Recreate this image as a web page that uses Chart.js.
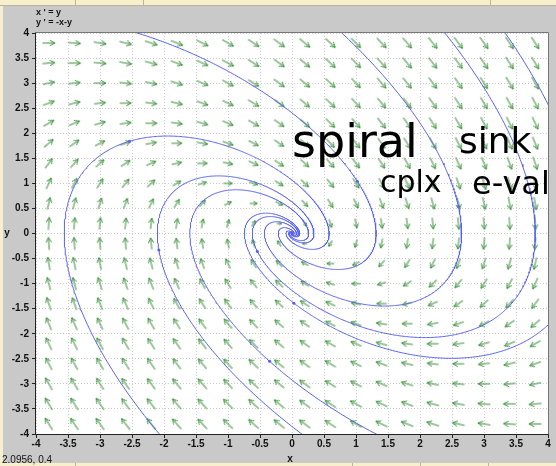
<!DOCTYPE html>
<html>
<head>
<meta charset="utf-8">
<script src="https://cdn.jsdelivr.net/npm/chart.js@4/dist/chart.umd.min.js"></script>
<style>
  html, body { margin: 0; padding: 0; background: #c8c8c8; }
  #wrap { position: relative; width: 556px; height: 466px; }
</style>
</head>
<body>
<div id="wrap"><canvas id="phase" width="556" height="466"></canvas></div>
<script>
// Phase plane of the linear system  x' = y,  y' = -x - y
const equationLines = ["x ' = y", "y ' = -x-y"];
const xLimits = [-4, 4];
const yLimits = [-4, 4];
const tickValues = [-4, -3.5, -3, -2.5, -2, -1.5, -1, -0.5, 0, 0.5, 1, 1.5, 2, 2.5, 3, 3.5, 4];
const tickLabels = ["-4", "-3.5", "-3", "-2.5", "-2", "-1.5", "-1", "-0.5", "0", "0.5", "1", "1.5", "2", "2.5", "3", "3.5", "4"];

// direction-field sample positions
const fieldXs = [-3.8, -3.4, -3.0, -2.6, -2.2, -1.8, -1.4, -1.0, -0.6, -0.2, 0.2, 0.6, 1.0, 1.4, 1.8, 2.2, 2.6, 3.0, 3.4, 3.8];
const fieldYs = [-3.8, -3.4, -3.0, -2.6, -2.2, -1.8, -1.4, -1.0, -0.6, -0.2, 0.2, 0.6, 1.0, 1.4, 1.8, 2.2, 2.6, 3.0, 3.4, 3.8];

// initial conditions of the plotted solution curves
const seedXs = [-2.54, 1.02, 2.60, -2.08, -0.35, -0.54, 0.03];
const seedYs = [1.84, 1.04, 0.54, -0.33, -2.55, -0.36, -1.39];

const noteWords = ["spiral", "sink", "cplx", "e-val"];
const cursorReadout = "2.0956, 0.4";
const axisNames = ["x", "y"];

// right-hand side of the system
function rhs(x, y) { return [y, -x - y]; }

function rk4(x, y, h) {
  const [a1, b1] = rhs(x, y);
  const [a2, b2] = rhs(x + h * a1 / 2, y + h * b1 / 2);
  const [a3, b3] = rhs(x + h * a2 / 2, y + h * b2 / 2);
  const [a4, b4] = rhs(x + h * a3, y + h * b3);
  return [x + h * (a1 + 2 * a2 + 2 * a3 + a4) / 6, y + h * (b1 + 2 * b2 + 2 * b3 + b4) / 6];
}

// integrate backward until far outside, forward until the sink is reached
function solutionCurve(x0, y0) {
  const h = 0.01, far = 10;
  const back = [];
  let x = x0, y = y0;
  for (let i = 0; i < 5000; i++) {
    [x, y] = rk4(x, y, -h);
    back.push({ x, y });
    if (Math.abs(x) > far || Math.abs(y) > far) break;
  }
  const fwd = [];
  x = x0; y = y0;
  for (let i = 0; i < 8000; i++) {
    [x, y] = rk4(x, y, h);
    fwd.push({ x, y });
    if (Math.hypot(x, y) < 0.004) break;
  }
  return back.reverse().concat([{ x: x0, y: y0 }], fwd);
}

const fieldPoints = [];
fieldYs.forEach(y => fieldXs.forEach(x => fieldPoints.push({ x, y })));

// arrow sprites, cached by length in pixels
const spriteCache = {};
function arrowSprite(len) {
  const key = Math.round(len * 2) / 2;
  if (spriteCache[key]) return spriteCache[key];
  const c = document.createElement('canvas');
  const w = Math.ceil(key) + 4, hgt = 10;
  c.width = w; c.height = hgt;
  const g = c.getContext('2d');
  g.strokeStyle = 'rgb(58,145,58)';
  g.lineWidth = 1;
  g.lineCap = 'round';
  const x0 = (w - key) / 2, x1 = x0 + key, cy = hgt / 2;
  const hl = Math.min(4.5, key * 0.45), hw = hl * 0.55;
  g.beginPath();
  g.moveTo(x0, cy); g.lineTo(x1, cy);
  g.moveTo(x1 - hl, cy - hw); g.lineTo(x1, cy); g.lineTo(x1 - hl, cy + hw);
  g.stroke();
  spriteCache[key] = c;
  return c;
}

function arrowLength(p) {
  const [u, v] = rhs(p.x, p.y);
  const m = Math.hypot(u, v);
  return 3 + 12 * m / (m + 1.2);
}

function arrowAngle(ctx) {
  const p = ctx.raw;
  const [u, v] = rhs(p.x, p.y);
  const a = ctx.chart.chartArea;
  const kx = a ? (a.right - a.left) / (xLimits[1] - xLimits[0]) : 64;
  const ky = a ? (a.bottom - a.top) / (yLimits[1] - yLimits[0]) : 50;
  return Math.atan2(-v * ky, u * kx) * 180 / Math.PI;
}

const curveColor = 'rgb(88,98,240)';
const datasets = [];
seedXs.forEach((sx, i) => {
  datasets.push({
    data: solutionCurve(sx, seedYs[i]),
    showLine: true,
    borderColor: curveColor,
    borderWidth: 1,
    pointRadius: 0,
    tension: 0,
    clip: 0
  });
});
datasets.push({
  data: seedXs.map((sx, i) => ({ x: sx, y: seedYs[i] })),
  showLine: false,
  pointRadius: 1.5,
  pointBackgroundColor: curveColor,
  pointBorderWidth: 0
});
datasets.push({
  data: fieldPoints,
  showLine: false,
  pointRadius: 1,
  pointStyle: ctx => arrowSprite(arrowLength(ctx.raw)),
  pointRotation: ctx => arrowAngle(ctx)
});

const labelFont = { family: '"Liberation Sans", Arial, sans-serif', size: 10, weight: 'bold' };

const decor = {
  id: 'decor',
  beforeDraw(chart) {
    const { ctx, chartArea: a, width, height } = chart;
    ctx.save();
    ctx.fillStyle = '#c9c9c9';
    ctx.fillRect(0, 0, width, height);
    // window strips
    ctx.fillStyle = '#f8f0cc';
    ctx.fillRect(0, 0, width, 5);
    ctx.fillRect(0, 0, 3, height);
    ctx.fillRect(0, 463, width, 3);
    ctx.strokeStyle = '#b9b4a0';
    ctx.lineWidth = 1;
    ctx.beginPath();
    [75, 143, 490].forEach(x => { ctx.moveTo(x + 0.5, 0); ctx.lineTo(x + 0.5, 5); });
    [75, 352, 420, 488].forEach(x => { ctx.moveTo(x + 0.5, 463); ctx.lineTo(x + 0.5, 466); });
    ctx.moveTo(0, 5.5); ctx.lineTo(width, 5.5);
    ctx.stroke();
    ctx.fillStyle = '#ffffff';
    ctx.fillRect(a.left, a.top, a.right - a.left, a.bottom - a.top);
    ctx.restore();
  },
  afterDraw(chart) {
    const { ctx, chartArea: a } = chart;
    ctx.save();
    // plot frame
    ctx.lineWidth = 1;
    ctx.strokeStyle = '#777';
    ctx.beginPath();
    ctx.moveTo(a.left - 0.5, a.top - 0.5); ctx.lineTo(a.right + 0.5, a.top - 0.5); ctx.lineTo(a.right + 0.5, a.bottom + 0.5);
    ctx.stroke();
    ctx.strokeStyle = '#222';
    ctx.beginPath();
    ctx.moveTo(a.left - 0.5, a.top - 0.5); ctx.lineTo(a.left - 0.5, a.bottom + 0.5); ctx.lineTo(a.right + 0.5, a.bottom + 0.5);
    ctx.stroke();

    // equations and axis names
    ctx.fillStyle = '#111';
    ctx.textAlign = 'left';
    ctx.textBaseline = 'alphabetic';
    ctx.font = 'bold 9px "Liberation Sans", Arial, sans-serif';
    ctx.fillText(equationLines[0], 36, 15);
    ctx.fillText(equationLines[1], 36, 25);
    ctx.font = 'bold 10px "Liberation Sans", Arial, sans-serif';
    ctx.textAlign = 'center';
    ctx.fillText(axisNames[0], (a.left + a.right) / 2 - 2, 462);
    ctx.fillText(axisNames[1], 7, (a.top + a.bottom) / 2 + 2);
    ctx.textAlign = 'left';
    ctx.font = '10px "Liberation Sans", Arial, sans-serif';
    ctx.fillText(cursorReadout, 2, 463);

    // handwritten note
    ctx.fillStyle = '#000';
    ctx.font = '46px "DejaVu Sans", sans-serif';
    ctx.fillText(noteWords[0], 292, 157, 147);
    ctx.font = '36px "DejaVu Sans", sans-serif';
    ctx.fillText(noteWords[1], 459, 153, 73);
    ctx.font = '30px "DejaVu Sans", sans-serif';
    ctx.fillText(noteWords[2], 380, 192, 64);
    ctx.font = '32px "DejaVu Sans", sans-serif';
    ctx.fillText(noteWords[3], 472, 194, 81);
    ctx.restore();
  }
};

function axisOptions(limits) {
  return {
    type: 'linear',
    min: limits[0],
    max: limits[1],
    afterBuildTicks: scale => { scale.ticks = tickValues.map(v => ({ value: v })); },
    ticks: {
      autoSkip: false,
      maxRotation: 0,
      color: '#111',
      font: labelFont,
      padding: 2,
      callback: (v, i) => tickLabels[i]
    },
    grid: {
      color: '#cdcdcd',
      lineWidth: 1,
      drawTicks: true,
      tickLength: 4,
      tickColor: '#222',
      tickWidth: 1
    },
    border: { display: false, dash: [1, 2] }
  };
}

const xAxis = axisOptions(xLimits);
xAxis.position = 'bottom';
xAxis.ticks.padding = 0;
xAxis.afterFit = s => { s.height = 32; };
const yAxis = axisOptions(yLimits);
yAxis.position = 'left';
yAxis.ticks.padding = 3;
yAxis.afterFit = s => { s.width = 36; };

new Chart(document.getElementById('phase'), {
  type: 'scatter',
  data: { datasets },
  options: {
    responsive: false,
    devicePixelRatio: 1,
    animation: false,
    events: [],
    layout: { padding: { left: 0, right: 8, top: 33, bottom: 0 } },
    plugins: { legend: { display: false }, tooltip: { enabled: false }, title: { display: false } },
    scales: { x: xAxis, y: yAxis }
  },
  plugins: [decor]
});
</script>
</body>
</html>
